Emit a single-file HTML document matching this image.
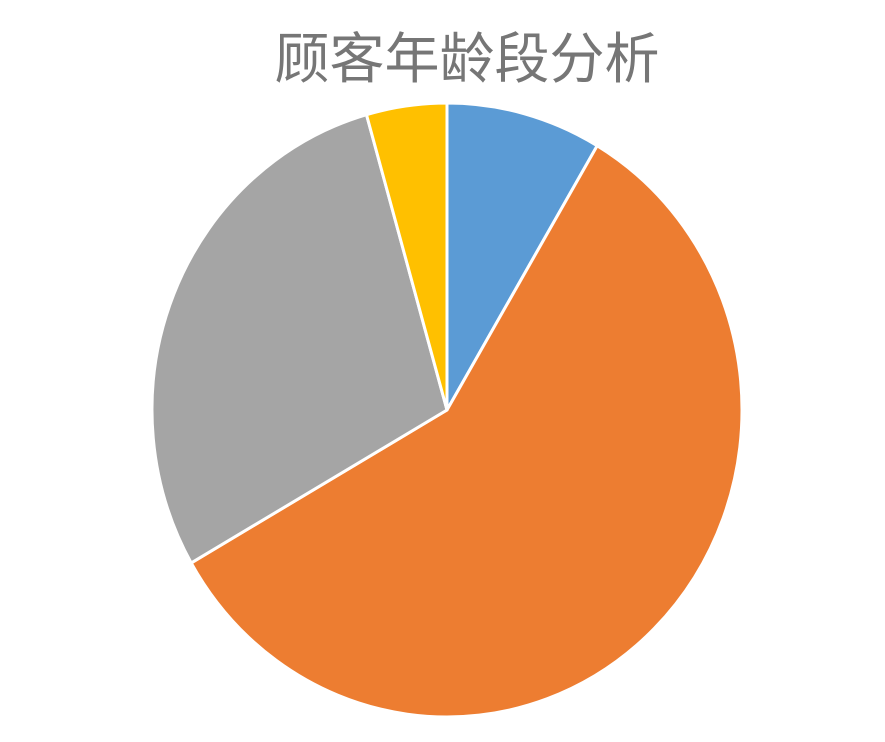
<!DOCTYPE html>
<html><head><meta charset="utf-8">
<style>
html,body{margin:0;padding:0;background:#fff;width:885px;height:742px;overflow:hidden}
svg{display:block}
</style></head>
<body>
<svg id="chart" width="885" height="742" viewBox="0 0 885 742" xmlns="http://www.w3.org/2000/svg">
<text x="467" y="78" text-anchor="middle" font-family="'Liberation Sans','Noto Sans CJK SC',sans-serif" font-size="55" fill="#767676">顾客年龄段分析</text>
<g id="slices"></g>
</svg>
<script>
const categories = ['18岁以下','18-30岁','31-50岁','50岁以上'];
const values = [8.5, 58.2, 28.9, 4.4];
const colors = ['#5b9bd5','#ed7d31','#a5a5a5','#ffc000'];
const cx = 447, cy = 410, rx = 295, ry = 307;
const g = document.getElementById('slices');
const total = values.reduce((a,b)=>a+b,0);
function pt(a){return [cx + rx*Math.sin(a), cy - ry*Math.cos(a)];}
let start = 0;
values.forEach((v,i)=>{
  const sweep = v/total*2*Math.PI;
  const end = start + sweep;
  const [x1,y1] = pt(start), [x2,y2] = pt(end);
  const large = sweep > Math.PI ? 1 : 0;
  const p = document.createElementNS('http://www.w3.org/2000/svg','path');
  p.setAttribute('d',`M${cx},${cy} L${x1},${y1} A${rx},${ry} 0 ${large} 1 ${x2},${y2} Z`);
  p.setAttribute('fill',colors[i]);
  p.setAttribute('stroke','#fff');
  p.setAttribute('stroke-width','3');
  p.setAttribute('stroke-linejoin','round');
  
  
  const t = document.createElementNS('http://www.w3.org/2000/svg','title');
  t.textContent = categories[i] + ': ' + v + '%';
  p.appendChild(t);
  g.appendChild(p);
  start = end;
});
</script>
</body></html>
